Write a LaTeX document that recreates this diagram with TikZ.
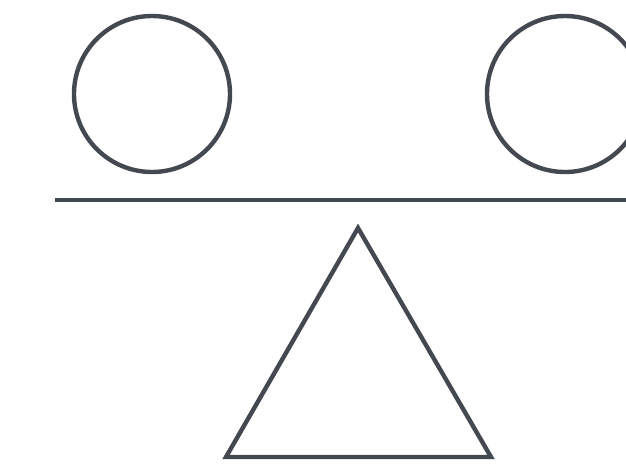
\documentclass[tikz,border=0pt]{standalone}
\usepackage{tikz}
\usetikzlibrary{calc}
\definecolor{inkgray}{RGB}{68,72,80}

\begin{document}
\begin{tikzpicture}[x=0.02cm,y=-0.02cm,line width=2.5pt]
    \useasboundingbox (0,0) rectangle (626,471);
    \clip (0,0) rectangle (626,471);
    % Kuglerne
    \draw[inkgray] (152,94) circle (78*0.02cm);
    \draw[inkgray] (565,94) circle (78*0.02cm);
    % Vippebraettet
    \draw[inkgray] (55,200) -- (640,200);
    % Understoetning
    \coordinate (T) at (358,228);
    \coordinate (L) at (226,457);
    \coordinate (R) at (491,457);
    \draw[inkgray,line join=miter] (T) -- (R) -- (L) -- cycle;
\end{tikzpicture}
\end{document}
